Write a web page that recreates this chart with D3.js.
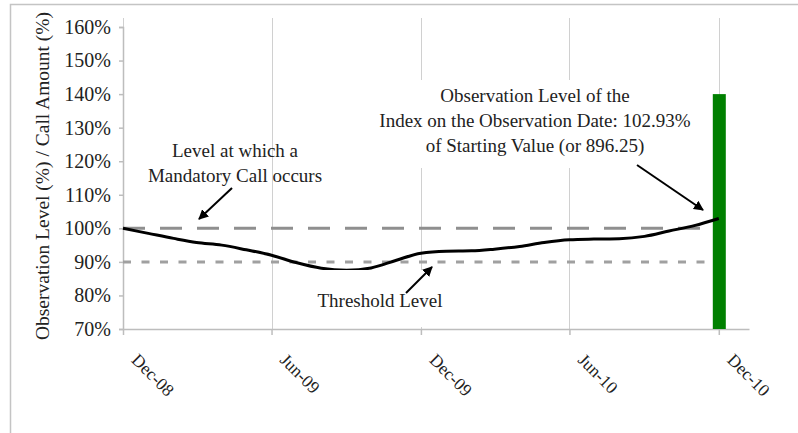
<!DOCTYPE html>
<html>
<head>
<meta charset="utf-8">
<script src="https://cdn.jsdelivr.net/npm/d3@7"></script>
<style>
  body { margin: 0; background: #fff; }
  text { font-family: "Liberation Serif", "Times New Roman", serif; fill: #222; }
</style>
</head>
<body>
<script>
// monthly observation levels, Dec-08 .. Dec-10 (% of starting value)
var months = ["2008-12", "2009-01", "2009-02", "2009-03", "2009-04", "2009-05", "2009-06",
              "2009-07", "2009-08", "2009-09", "2009-10", "2009-11", "2009-12",
              "2010-01", "2010-02", "2010-03", "2010-04", "2010-05", "2010-06",
              "2010-07", "2010-08", "2010-09", "2010-10", "2010-11", "2010-12"];
var levels = [100, 98.5, 97, 95.8, 95, 93.6, 92, 89.8, 88.1, 87.5, 88.2, 90.5, 92.6,
              93.2, 93.3, 93.8, 94.6, 95.8, 96.6, 96.8, 96.9, 97.6, 99.2, 100.8, 102.93];
var callDate = "2010-12";
var callAmount = 140;
var callLevel = 100;
var threshold = 90;
var yTicks = [70, 80, 90, 100, 110, 120, 130, 140, 150, 160];
var xTicks = ["2008-12", "2009-06", "2009-12", "2010-06", "2010-12"];
var yTitle = "Observation Level (%) / Call Amount (%)";

var W = 798, H = 433;
var parse = d3.timeParse("%Y-%m");

var svg = d3.select("body").append("svg")
    .attr("width", W)
    .attr("height", H);

// outer frame (only top/left visible)
svg.append("rect")
    .attr("x", 10.5).attr("y", 4.5)
    .attr("width", 820).attr("height", 460)
    .attr("fill", "none")
    .attr("stroke", "#c4c4c4")
    .attr("stroke-width", 1.5);

/*Scales*/
var x = d3.scaleTime()
    .domain([parse("2008-12"), new Date(2011, 0, 7)])
    .range([123, 749]);
var y = d3.scaleLinear()
    .domain([70, 160])
    .range([329, 27]);

/*Gridlines*/
svg.append("g")
    .selectAll("line")
    .data(xTicks)
    .join("line")
    .attr("x1", function(d) { return Math.round(x(parse(d))) + 0.5; })
    .attr("x2", function(d) { return Math.round(x(parse(d))) + 0.5; })
    .attr("y1", 18)
    .attr("y2", y(70))
    .attr("stroke", "#d0d0d0")
    .attr("stroke-width", 1);

/*Axes*/
var yAxis = d3.axisLeft(y)
    .tickValues(yTicks)
    .tickSize(4)
    .tickPadding(8)
    .tickFormat(function(d) { return d + "%"; });
var gy = svg.append("g")
    .attr("transform", "translate(123,0)")
    .call(yAxis);
gy.selectAll("path, line").attr("stroke", "#bdbdbd").attr("stroke-width", 1.5);
gy.selectAll("text")
    .attr("font-size", 20)
    .attr("font-family", "Liberation Serif")
    .attr("fill", "#333");

var xAxis = d3.axisBottom(x)
    .tickValues(xTicks.map(parse))
    .tickSize(6)
    .tickSizeOuter(0)
    .tickFormat(d3.timeFormat("%b-%y"));
var gx = svg.append("g")
    .attr("transform", "translate(0," + y(70) + ")")
    .call(xAxis);
gx.selectAll("path, line").attr("stroke", "#bdbdbd").attr("stroke-width", 1.5);
gx.selectAll("text")
    .attr("font-size", 17.5)
    .attr("font-family", "Liberation Serif")
    .attr("fill", "#222")
    .attr("text-anchor", "start")
    .attr("x", 0).attr("y", 0).attr("dy", 0)
    .attr("transform", "translate(7,32) rotate(45)");

/*Y title*/
svg.append("text")
    .attr("transform", "translate(49," + 176 + ") rotate(-90)")
    .attr("text-anchor", "middle")
    .attr("font-size", 19.5)
    .attr("fill", "#222")
    .text(yTitle);

/*Reference levels*/
svg.append("line")
    .attr("x1", x(parse(months[0]))).attr("x2", 706)
    .attr("y1", y(callLevel)).attr("y2", y(callLevel))
    .attr("stroke", "#8f8f8f")
    .attr("stroke-width", 3)
    .attr("stroke-dasharray", "22,15");
svg.append("line")
    .attr("x1", x(parse(months[0]))).attr("x2", 712)
    .attr("y1", y(threshold)).attr("y2", y(threshold))
    .attr("stroke", "#a0a0a0")
    .attr("stroke-width", 3)
    .attr("stroke-dasharray", "8,10.5");

/*Call bar*/
svg.append("rect")
    .attr("x", x(parse(callDate)) - 6)
    .attr("width", 13)
    .attr("y", y(callAmount))
    .attr("height", y(70) - y(callAmount))
    .attr("fill", "#008000");

/*Observation line*/
var line = d3.line()
    .x(function(d, i) { return x(parse(months[i])); })
    .y(function(d) { return y(d); })
    .curve(d3.curveMonotoneX);
svg.append("path")
    .datum(levels)
    .attr("d", line)
    .attr("fill", "none")
    .attr("stroke", "#000")
    .attr("stroke-width", 3);

/*Annotations*/
svg.append("defs").append("marker")
    .attr("id", "arr")
    .attr("viewBox", "0 0 10 10")
    .attr("refX", 9).attr("refY", 5)
    .attr("markerWidth", 5).attr("markerHeight", 5)
    .attr("orient", "auto")
    .append("path")
    .attr("d", "M0,0 L10,5 L0,10 z")
    .attr("fill", "#000");

function note(lines, cx, y0, dy, bg) {
    var g = svg.append("g");
    var t = g.append("text")
        .attr("text-anchor", "middle")
        .attr("font-size", 19)
        .attr("fill", "#222");
    lines.forEach(function(s, i) {
        t.append("tspan").attr("x", cx).attr("y", y0 + i * dy).text(s);
    });
    if (bg) {
        g.insert("rect", "text")
            .attr("x", bg[0]).attr("y", bg[1])
            .attr("width", bg[2]).attr("height", bg[3])
            .attr("fill", "#fff");
    }
}
function arrow(x1, y1, x2, y2) {
    svg.append("line")
        .attr("x1", x1).attr("y1", y1)
        .attr("x2", x2).attr("y2", y2)
        .attr("stroke", "#000")
        .attr("stroke-width", 2)
        .attr("marker-end", "url(#arr)");
}

note(["Level at which a", "Mandatory Call occurs"], 235, 157, 25);
arrow(232, 188, 199, 219);

note(["Threshold Level"], 380, 307, 25, [312, 270, 130, 57]);
arrow(406, 293, 432, 267);

note(["Observation Level of the",
      "Index on the Observation Date: 102.93%",
      "of Starting Value (or 896.25)"], 535, 102, 25, [375, 80, 320, 88]);
arrow(637, 165, 703, 210);
</script>
</body>
</html>
